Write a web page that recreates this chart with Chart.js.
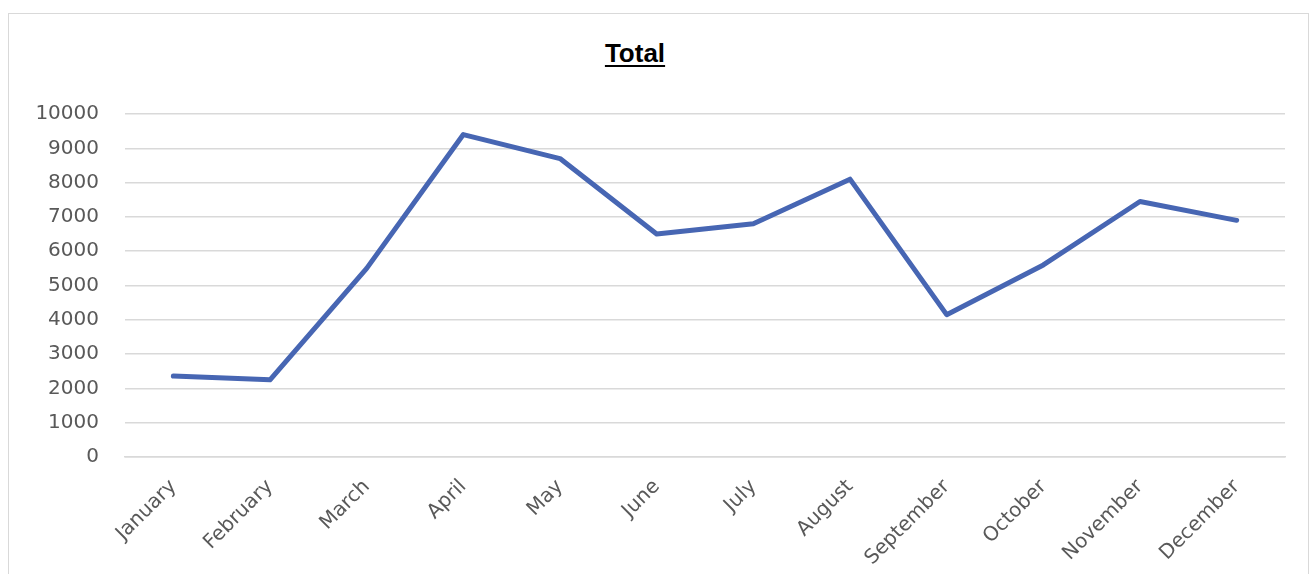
<!DOCTYPE html>
<html>
<head>
<meta charset="utf-8">
<title>Total</title>
<script src="https://cdn.jsdelivr.net/npm/chart.js@4.4.0/dist/chart.umd.min.js"></script>
<style>
  body { margin: 0; background: #fff; width: 1316px; height: 574px; overflow: hidden; position: relative; }
  #frame { position: absolute; left: 8px; top: 13px; width: 1301px; height: 620px; border: 1px solid #d9d9d9; box-sizing: border-box; }
  #title { position: absolute; left: 535px; width: 200px; top: 40px; text-align: center; line-height: 26px;
           font-family: "Liberation Sans"; font-weight: bold; font-size: 26px;
           text-decoration: underline; text-decoration-thickness: 2px; text-underline-offset: 3px; color: #000; }
  #wrap { position: absolute; left: 9px; top: 14px; width: 1298px; height: 560px; }
</style>
</head>
<body>
<div id="frame"></div>
<div id="title">Total</div>
<div id="wrap"><canvas id="chart"></canvas></div>
<script>
const months = ["January", "February", "March", "April", "May", "June",
  "July", "August", "September", "October", "November", "December"];
const totals = [2360, 2250, 5500, 9400, 8700, 6500, 6800, 8100, 4150, 5600, 7450, 6900];
const yMin = 0;
const yMax = 10000;
const yStep = 1000;

const textGray = "#595959";
const gridGray = "#d9d9d9";

new Chart(document.getElementById("chart"), {
  type: "line",
  data: {
    labels: months,
    datasets: [{
      label: "Total",
      data: totals,
      borderColor: "#4766b3",
      borderWidth: 5,
      tension: 0,
      pointRadius: 0,
      borderCapStyle: "round",
      borderJoinStyle: "round",
      fill: false
    }]
  },
  options: {
    responsive: true,
    maintainAspectRatio: false,
    animation: false,
    layout: { padding: { top: 100, right: 22, bottom: 0, left: 0 } },
    plugins: {
      legend: { display: false },
      tooltip: { enabled: false },
      title: { display: false }
    },
    scales: {
      x: {
        offset: true,
        grid: { display: false },
        border: { display: true, color: gridGray, width: 1.5 },
        ticks: {
          color: textGray,
          font: { family: "DejaVu Sans", size: 20 },
          maxRotation: 45,
          minRotation: 45,
          autoSkip: false,
          padding: 10
        },
        afterFit: (scale) => { scale.height = 117; }
      },
      y: {
        min: yMin,
        max: yMax,
        grid: { color: gridGray, lineWidth: 1.5, drawTicks: false },
        border: { display: false },
        ticks: {
          stepSize: yStep,
          color: textGray,
          font: { family: "DejaVu Sans", size: 20 },
          padding: 26,
          callback: (v) => String(v)
        },
        afterFit: (scale) => { scale.width = 116; }
      }
    }
  }
});
</script>
</body>
</html>
